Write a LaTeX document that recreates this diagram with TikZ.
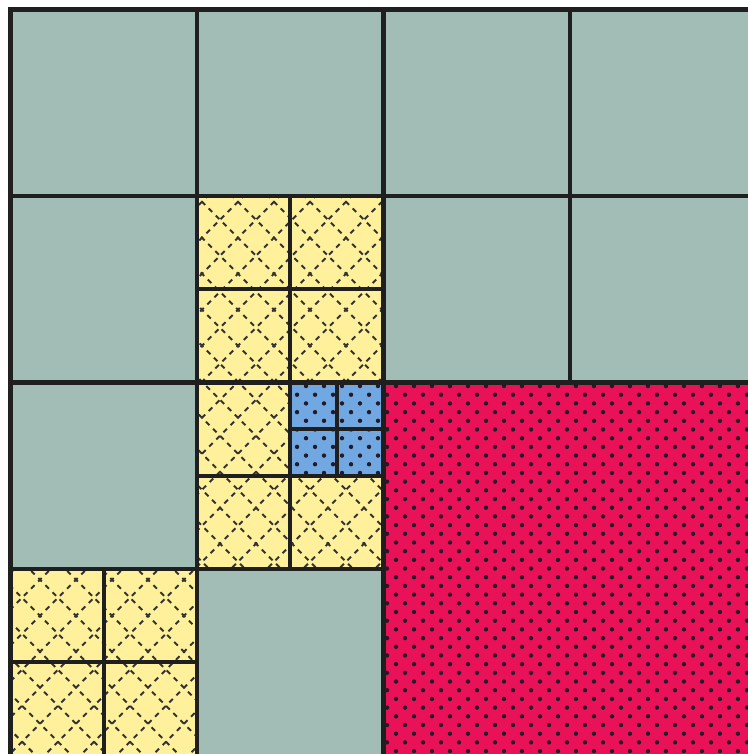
\documentclass[tikz,border=0pt]{standalone}
\definecolor{cellgray}{RGB}{162,189,181}
\definecolor{cellyellow}{RGB}{255,241,155}
\definecolor{cellblue}{RGB}{113,168,226}
\definecolor{cellred}{RGB}{233,17,88}
\definecolor{dotcol}{RGB}{35,25,40}
\begin{document}
\begin{tikzpicture}[x=3cm,y=-3cm,
		gridline/.style={line width=2pt,line cap=rect,draw=black!88},
		hatch/.style={line width=0.9pt,draw=black!80,dash pattern=on 2.3pt off 2.3pt}]
				\useasboundingbox (-0.0563,-0.0509) rectangle (3.954,3.992);
				\fill[cellgray] (0,0) rectangle (4.1,4.1);
				\fill[cellred] (2,2) rectangle (4.1,4.1);
				\fill[cellblue] (1.5,2) rectangle (2,2.5);
				\fill[cellyellow] (1,1) rectangle (2,2) (1,2) rectangle (1.5,2.5) (1,2.5) rectangle (2,3) (0,3) rectangle (1,4.1);
				% dots
				\begin{scope}
					\clip (1.5,2) rectangle (2,2.5) (2,2) rectangle (4.1,4.1);
					\foreach \j in {0,...,22}
						\foreach \i in {0,...,27} {
							\fill[dotcol] (1.488+\i*0.0965,2.019+\j*0.0932) circle (1pt);
							\fill[dotcol] (1.440+\i*0.0965,2.0656+\j*0.0932) circle (1pt);
						}
				\end{scope}
				% hatching
				\begin{scope}
					\clip (1,1) rectangle (2,2) (1,2) rectangle (1.5,2.5) (1,2.5) rectangle (2,3) (0,3) rectangle (1,4.1);
					\foreach \k in {0,...,30} {
						\draw[hatch] (-4.25+\k*0.193+0.8,0.8) -- (-4.25+\k*0.193+4.3,4.3);
						\draw[hatch] (0.9+\k*0.193,0) -- (0.9+\k*0.193-4.3,4.3);
					}
				\end{scope}
				\draw[gridline] (4.1,0) -- (0,0) -- (0,4.1);
				\draw[gridline] (1,0) -- (1,4.1);
				\draw[gridline] (2,0) -- (2,4.1);
				\draw[gridline] (3,0) -- (3,2);
				\draw[gridline] (0,1) -- (4.1,1);
				\draw[gridline] (0,2) -- (4.1,2);
				\draw[gridline] (0,3) -- (2,3);
				\draw[gridline] (1.5,1) -- (1.5,3) (1,1.5) -- (2,1.5) (1,2.5) -- (2,2.5);
				\draw[gridline] (0.5,3) -- (0.5,4.1) (0,3.5) -- (1,3.5);
				\draw[gridline,line width=1.6pt] (1.75,2) -- (1.75,2.5) (1.5,2.25) -- (2.02,2.25);
			\end{tikzpicture}
\end{document}
